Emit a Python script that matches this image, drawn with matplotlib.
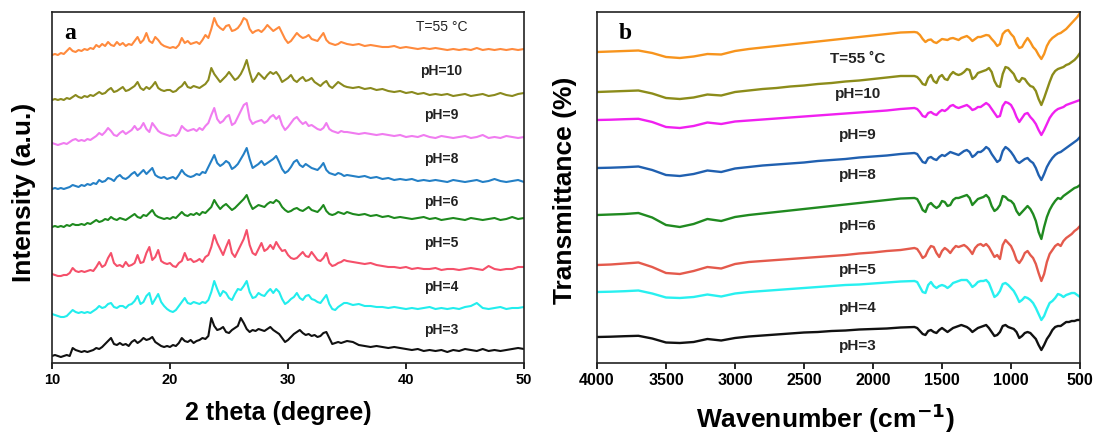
import numpy as np
import matplotlib
matplotlib.use("Agg")
import matplotlib.pyplot as plt

plt.rcParams['font.family'] = ['Liberation Sans', 'DejaVu Sans']
plt.rcParams['font.weight'] = 'bold'

# ---------------- Panel a: XRD ----------------
xrd_labels = ["T=55 °C", "pH=10", "pH=9", "pH=8", "pH=6", "pH=5", "pH=4", "pH=3"]
xrd_colors = ["#FF8A3D", "#8A8A1E", "#F07CF0", "#2480C6", "#1E8A1E", "#F5506A", "#22EDED", "#111111"]
xrd_offsets = [308, 263, 220, 174, 136, 88, 49, 7]
two_theta_fine = np.arange(10.0, 35.001, 0.25)
two_theta_coarse = np.arange(35.5, 50.001, 0.5)

xrd_t55 = [0, 1, 0, 2, 1, 4, 7, 4, 3, 5,
           4, 6, 5, 7, 6, 10, 8, 11, 9, 13,
           10, 9, 13, 10, 12, 9, 11, 10, 14, 18,
           12, 15, 22, 14, 12, 18, 15, 11, 9, 8,
           7, 8, 7, 10, 17, 12, 14, 11, 12, 13,
           11, 15, 20, 17, 26, 37, 30, 27, 25, 29,
           30, 24, 25, 27, 31, 37, 35, 26, 22, 24,
           25, 23, 26, 30, 27, 24, 26, 28, 22, 16,
           12, 14, 18, 22, 19, 17, 18, 20, 16, 15,
           14, 18, 22, 15, 12, 11, 10, 11, 13, 12,
           11,
           10, 11, 9, 10, 9, 8, 8, 9, 7, 8,
           7, 6, 7, 6, 7, 6, 5, 6, 5, 6,
           5, 7, 5, 6, 5, 6, 5, 6, 5, 6]
xrd_ph10 = [0, 1, 0, 1, 0, 2, 1, 3, 5, 3,
            2, 4, 3, 5, 4, 6, 8, 6, 7, 10,
            12, 8, 9, 11, 13, 9, 10, 12, 14, 18,
            12, 10, 13, 11, 14, 18, 12, 10, 9, 10,
            10, 8, 9, 12, 14, 18, 13, 12, 14, 13,
            12, 14, 16, 20, 32, 26, 22, 18, 21, 24,
            28, 24, 20, 22, 26, 32, 40, 28, 18, 22,
            27, 24, 21, 25, 28, 26, 28, 24, 18, 20,
            22, 25, 20, 18, 21, 23, 19, 20, 22, 18,
            16, 14, 17, 19, 14, 12, 15, 18, 16, 14,
            13,
            12, 13, 11, 12, 10, 11, 9, 8, 9, 7,
            8, 6, 7, 5, 6, 5, 6, 4, 5, 6,
            4, 5, 6, 4, 5, 7, 5, 4, 6, 7]
xrd_ph9 = [0, -1, -2, -1, 0, -1, 1, 3, 4, 2,
           3, 2, 4, 3, 5, 7, 10, 8, 11, 15,
           12, 8, 7, 10, 12, 9, 11, 13, 17, 13,
           15, 20, 14, 11, 20, 16, 12, 10, 9, 8,
           7, 8, 7, 10, 17, 14, 12, 13, 14, 12,
           15, 13, 17, 20, 28, 35, 24, 20, 22, 26,
           28, 18, 20, 26, 32, 38, 40, 24, 19, 21,
           22, 23, 20, 22, 26, 28, 24, 27, 18, 13,
           16, 20, 24, 26, 22, 19, 21, 17, 18, 16,
           14, 13, 15, 20, 14, 12, 11, 10, 12, 11,
           11,
           10, 9, 10, 9, 8, 9, 8, 7, 8, 6,
           7, 6, 8, 6, 5, 7, 6, 5, 6, 7,
           5, 6, 8, 5, 6, 5, 7, 6, 5, 6]
xrd_ph8 = [0, 1, 0, 1, 0, 1, 2, 4, 3, 2,
           4, 3, 5, 4, 6, 5, 9, 7, 8, 11,
           10, 8, 12, 14, 11, 10, 12, 15, 17, 13,
           16, 19, 15, 18, 21, 14, 12, 11, 12, 10,
           11, 12, 10, 14, 19, 15, 13, 12, 13, 15,
           14, 17, 16, 22, 28, 34, 26, 23, 25, 28,
           26, 20, 22, 25, 30, 35, 41, 30, 21, 23,
           25, 28, 24, 26, 28, 30, 33, 27, 20, 16,
           18, 22, 27, 29, 24, 22, 25, 23, 21, 20,
           19, 22, 26, 19, 16, 15, 14, 16, 15, 13,
           14,
           13, 12, 13, 11, 12, 10, 11, 9, 10, 9,
           10, 8, 9, 8, 9, 8, 7, 9, 8, 7,
           8, 9, 7, 8, 10, 8, 7, 8, 9, 7]
xrd_ph6 = [0, 1, 0, 1, 0, 2, 1, 3, 2, 2,
           3, 2, 4, 3, 5, 7, 5, 6, 8, 7,
           10, 8, 7, 9, 8, 7, 9, 11, 13, 10,
           9, 12, 11, 14, 17, 12, 10, 9, 8, 9,
           8, 10, 9, 12, 15, 12, 11, 13, 12, 14,
           12, 15, 14, 17, 20, 27, 22, 18, 21, 23,
           20, 17, 19, 22, 25, 28, 32, 24, 18, 20,
           22, 21, 20, 23, 25, 24, 27, 25, 20, 17,
           15, 16, 18, 19, 17, 16, 18, 20, 17, 16,
           15, 18, 22, 16, 13, 12, 13, 15, 14, 13,
           15,
           13, 12, 13, 11, 12, 10, 11, 9, 10, 9,
           8, 9, 10, 8, 9, 7, 8, 9, 8, 7,
           9, 8, 7, 8, 9, 7, 8, 10, 8, 9]
xrd_ph5 = [1, 0, -1, -1, 0, 0, 2, 7, 4, 3,
           4, 3, 4, 5, 4, 8, 13, 8, 10, 17,
           22, 12, 9, 10, 8, 13, 9, 10, 12, 20,
           12, 13, 22, 28, 15, 18, 25, 14, 12, 11,
           12, 9, 8, 12, 14, 22, 15, 16, 13, 14,
           16, 13, 18, 20, 28, 40, 32, 26, 20, 28,
           35, 22, 18, 24, 30, 36, 45, 30, 22, 20,
           26, 32, 24, 26, 30, 26, 33, 28, 24, 25,
           20, 17, 16, 17, 20, 23, 19, 18, 23, 19,
           15, 14, 17, 22, 12, 9, 10, 12, 13, 15,
           14,
           13, 12, 11, 12, 10, 9, 8, 8, 7, 8,
           6, 7, 6, 6, 7, 5, 6, 6, 5, 6,
           7, 6, 5, 9, 6, 5, 6, 6, 8, 8]
xrd_ph4 = [0, -1, -2, -3, -3, -2, 1, 4, 2, 1,
           2, 1, 2, 1, 3, 5, 8, 6, 7, 10,
           11, 7, 6, 8, 8, 6, 9, 10, 13, 18,
           10, 12, 18, 21, 10, 15, 20, 12, 8, 5,
           3, 2, 4, 8, 12, 16, 11, 10, 12, 11,
           10, 12, 11, 14, 22, 33, 25, 18, 23, 21,
           16, 14, 20, 25, 24, 28, 33, 22, 16, 17,
           21, 19, 18, 22, 25, 21, 25, 22, 15, 10,
           12, 15, 17, 21, 16, 14, 18, 19, 15, 14,
           12, 11, 15, 19, 10, 5, 4, 7, 9, 11,
           11,
           9, 10, 8, 8, 7, 7, 6, 7, 6, 5,
           6, 5, 6, 7, 5, 6, 5, 6, 5, 7,
           8, 11, 6, 5, 6, 7, 5, 6, 6, 7]
xrd_ph3 = [0, 1, 0, -1, 0, 1, 0, 8, 6, 5,
           4, 5, 4, 5, 6, 8, 7, 9, 12, 15,
           18, 12, 11, 13, 11, 12, 10, 14, 16, 13,
           15, 18, 16, 17, 19, 14, 12, 10, 9, 10,
           9, 11, 10, 13, 18, 15, 14, 16, 13, 15,
           16, 18, 17, 20, 38, 30, 26, 27, 29, 24,
           23, 26, 28, 30, 38, 33, 27, 24, 26, 25,
           27, 26, 25, 27, 29, 26, 24, 22, 18, 14,
           16, 19, 22, 24, 26, 23, 21, 22, 20, 21,
           19, 20, 23, 24, 18, 12, 13, 14, 13, 14,
           15,
           14, 11, 10, 9, 10, 9, 8, 9, 8, 7,
           6, 7, 5, 6, 5, 6, 4, 6, 5, 7,
           6, 5, 7, 5, 6, 5, 6, 7, 8, 7]
xrd_series = [xrd_t55, xrd_ph10, xrd_ph9, xrd_ph8, xrd_ph6, xrd_ph5, xrd_ph4, xrd_ph3]
xrd_label_y = [336, 292, 248, 204, 161, 120, 76, 33]

# ---------------- Panel b: FTIR ----------------
ftir_labels = ["T=55 ˚C", "pH=10", "pH=9", "pH=8", "pH=6", "pH=5", "pH=4", "pH=3"]
ftir_colors = ["#F7941D", "#8C8C1A", "#F020F0", "#2060B0", "#208A20", "#E45A4C", "#28F0F0", "#111111"]
ftir_offsets = [311, 271, 243, 195, 148, 98, 71, 26]
wn_high = np.arange(4000, 1799, -100)
wn_low = np.arange(1700, 499, -20)

ftir_t55 = [0, 0.5, 1, 1.5, -1, -5, -6, -4.5, -2, -2.5,
            1, 3, 4.5, 6, 7.5, 9, 10.5, 12, 13.5, 15,
            16.5, 18, 19.5,
            20, 19.5, 17, 13, 10, 12, 12.5, 10, 9, 11,
            13, 12.5, 12, 13.5, 14, 13, 12, 14, 15, 16,
            14, 11, 13, 15, 15, 16, 17, 16.5, 13, 10,
            6, 8, 18, 21, 22, 18, 15, 8, 4, 5,
            10, 14, 10, 5, 2, -3, -7, -2, 6, 11,
            14, 16, 18, 19, 21, 23, 26, 29, 32, 35,
            39]
ftir_ph10 = [0, 0.5, 1, 1.5, -1.5, -6, -7, -5.5, -2.5, -3.5,
             0, 1.5, 3, 4, 5.5, 6.5, 8, 9, 10.5, 11.5,
             13, 14.5, 16,
             16, 15, 12, 8, 7, 14, 17, 11, 9, 15,
             17, 13, 12, 17, 20, 18, 17, 18, 20, 23,
             22, 13, 15, 19, 20, 21, 22, 24, 20, 11,
             6, 5, 18, 25, 24, 21, 18, 12, 10, 14,
             13, 9, 6, 5, 1, -7, -13, -6, 2, 10,
             17, 21, 23, 24, 25, 27, 28, 30, 32, 35,
             39]
ftir_ph9 = [0, 0.3, 0.8, 1.2, -2, -7, -8, -6, -2.5, -4,
            -1.5, -0.5, 0.5, 1.5, 2.5, 3.5, 4.5, 5.5, 6.5, 7.5,
            8.5, 9.5, 11,
            12, 11, 8, 4, 3, 7, 8, 6, 5, 8,
            10, 9, 11, 14, 15, 13, 12, 13, 14, 15,
            13, 10, 11, 13, 13, 15, 17, 15, 11, 7,
            3, 4, 14, 18, 17, 15, 10, 3, -2, 2,
            6, 7, 3, 0, -4, -10, -15, -10, -4, 2,
            6, 9, 11, 12, 13, 15, 16, 17, 18, 19,
            20]
ftir_ph8 = [0, 0.3, 0.8, 1.5, -2, -7, -8, -6, -2.5, -4,
            -0.5, 1, 2.5, 3.5, 4.5, 5.5, 7, 8, 9, 10.5,
            11.5, 12.5, 14,
            15, 14, 10, 6, 5, 10, 11, 9, 8, 11,
            13, 12, 14, 16, 15, 14, 13, 15, 17, 18,
            16, 11, 13, 16, 16, 18, 21, 19, 14, 10,
            6, 8, 17, 21, 19, 16, 12, 7, 5, 7,
            9, 10, 7, 5, 0, -7, -12, -6, 1, 6,
            10, 13, 15, 16, 18, 20, 22, 24, 26, 28,
            31]
ftir_ph6 = [0, 0.5, 1, 2, -2.5, -10, -12, -9, -4, -6,
            -2, 0, 1.5, 3, 4.5, 6, 7.5, 9, 10.5, 12,
            13.5, 15, 16.5,
            17, 16, 11, 5, 3, 10, 12, 9, 7, 9,
            14, 13, 9, 10, 15, 17, 17, 18, 19, 20,
            17, 10, 13, 16, 17, 18, 20, 17, 9, 4,
            6, 10, 19, 18, 15, 14, 11, 4, 0, 3,
            6, 9, 6, 1, -6, -17, -24, -12, -2, 5,
            10, 14, 17, 16, 19, 21, 23, 25, 27, 28,
            30]
ftir_ph5 = [0, 0.5, 1.5, 2.5, -2, -8, -9, -6, -2, -3.5,
            1, 3, 4, 5, 6, 7, 8, 9, 10, 11.5,
            12.5, 14, 15,
            17, 16, 12, 7, 9, 15, 19, 18, 12, 8,
            14, 17, 15, 12, 16, 19, 18, 19, 20, 18,
            15, 11, 17, 20, 21, 19, 21, 18, 13, 8,
            10, 6, 20, 25, 22, 19, 13, 5, 2, 6,
            12, 14, 10, 7, 1, -8, -16, -9, 3, 11,
            15, 19, 21, 19, 24, 27, 29, 31, 34, 36,
            39]
ftir_ph4 = [0, 0.3, 0.8, 1.5, -1.5, -5.5, -6, -5, -2.5, -4.5,
            -1.5, 0, 1, 2, 3, 4, 5, 6, 7, 7.5,
            8.5, 9.5, 10.5,
            11, 10, 5, 0, -1, 7, 10, 6, 4, 6,
            7, 6, 4, 6, 9, 10, 11, 12, 12, 12,
            9, 5, 7, 10, 11, 11, 12, 9, 2, -5,
            -3, 1, 8, 9, 7, 4, 1, -4, -10, -8,
            -5, -6, -8, -11, -16, -22, -28, -24, -17, -11,
            -9, -6, -2, -3, -5, -3, -2, -1, -1, -3,
            -5]
ftir_ph3 = [0, 0.3, 0.8, 1.2, -1.5, -5.5, -6, -5, -2, -3.5,
            -1, 0.5, 1.5, 2.5, 3.5, 4.5, 5, 6, 6.5, 7.5,
            8, 8.5, 9.5,
            10, 9, 6, 3, 2, 6, 7, 5, 4, 7,
            9, 7, 5, 7, 9, 10, 11, 12, 11, 10,
            8, 5, 7, 9, 10, 11, 12, 9, 5, 1,
            2, 5, 11, 12, 10, 9, 8, 5, -1, 1,
            4, 5, 4, 1, -2, -8, -13, -8, -2, 2,
            7, 10, 11, 11, 13, 15, 15, 16, 16, 17,
            17]
ftir_series = [ftir_t55, ftir_ph10, ftir_ph9, ftir_ph8, ftir_ph6, ftir_ph5, ftir_ph4, ftir_ph3]
ftir_label_y = [304, 269, 228, 188, 137, 93, 55, 17]

# ---------------- Figure ----------------
W, H = 1096, 437
fig = plt.figure(figsize=(W / 100, H / 100), dpi=100)
top_px, bot_px = 12, 363
axa = fig.add_axes([52 / W, (H - bot_px) / H, (524 - 52) / W, (bot_px - top_px) / H])
axb = fig.add_axes([597 / W, (H - bot_px) / H, (1080 - 597) / W, (bot_px - top_px) / H])

x_xrd = np.concatenate([two_theta_fine, two_theta_coarse])
for vals, off, col, lab, ly in zip(xrd_series, xrd_offsets, xrd_colors, xrd_labels, xrd_label_y):
    axa.plot(x_xrd, off + np.asarray(vals, float), color=col, lw=1.5, solid_joinstyle='round')
    axa.text(43.0, ly, lab, ha='center', va='center', fontsize=10,
             fontweight='normal' if lab.startswith('T') else 'bold', color='#222222')

x_ftir = np.concatenate([wn_high, wn_low])
for vals, off, col, lab, ly in zip(ftir_series, ftir_offsets, ftir_colors, ftir_labels, ftir_label_y):
    axb.plot(x_ftir, off + np.asarray(vals, float), color=col, lw=1.7, solid_joinstyle='round')
    axb.text(2110, ly, lab, ha='center', va='center', fontsize=11, fontweight='bold', color='#222222')

axa.set_xlim(10, 50)
axa.set_ylim(0, bot_px - top_px)
axa.set_xticks([10, 20, 30, 40, 50])
axb.set_xlim(4000, 500)
axb.set_ylim(0, bot_px - top_px)
axb.set_xticks([4000, 3500, 3000, 2500, 2000, 1500, 1000, 500])

for ax, fs in ((axa, 10.5), (axb, 11.5)):
    ax.set_yticks([])
    for s in ax.spines.values():
        s.set_linewidth(1.2)
        s.set_color('#222222')
    ax.tick_params(axis='x', direction='out', length=4, width=1.2, labelsize=fs, pad=3)
    for t in ax.get_xticklabels():
        t.set_fontweight('bold')

axa.text(0.025, 0.94, 'a', transform=axa.transAxes, ha='left', va='center',
         fontsize=17, fontweight='bold', family=['Liberation Serif', 'DejaVu Serif'])
axb.text(0.045, 0.94, 'b', transform=axb.transAxes, ha='left', va='center',
         fontsize=17, fontweight='bold', family=['Liberation Serif', 'DejaVu Serif'])

fig.text(278 / W, 1 - 413 / H, '2 theta (degree)', ha='center', va='center', fontsize=18, fontweight='bold')
fig.text(24 / W, 1 - 192 / H, 'Intensity (a.u.)', ha='center', va='center', rotation=90, fontsize=19, fontweight='bold')
fig.text(825 / W, 1 - 418 / H, 'Wavenumber (cm$^{\\mathbf{-1}}$)', ha='center', va='center', fontsize=19, fontweight='bold')
fig.text(565 / W, 1 - 190 / H, 'Transmittance (%)', ha='center', va='center', rotation=90, fontsize=19, fontweight='bold')

fig.savefig('out.png', dpi=100)
